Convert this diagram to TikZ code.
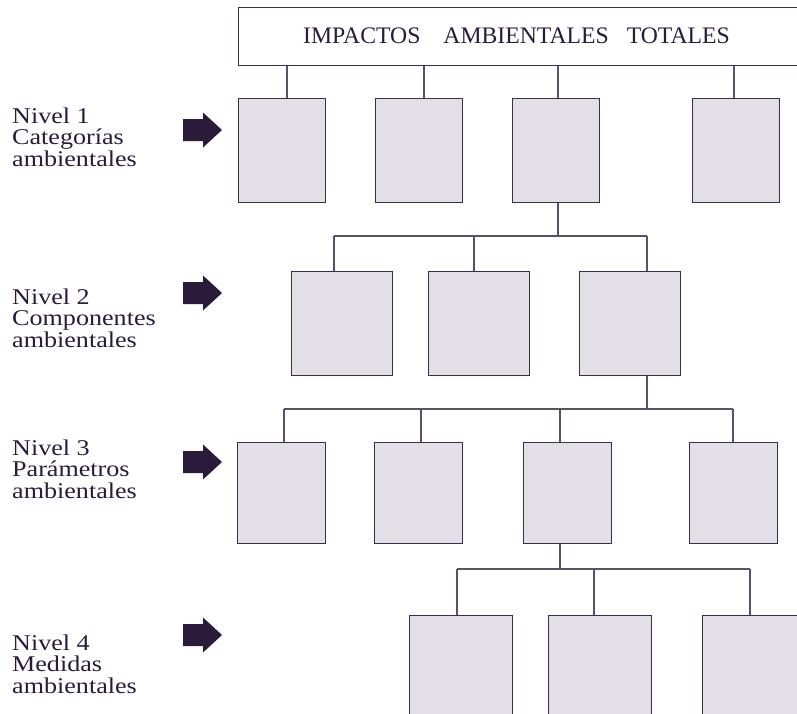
\documentclass[tikz,border=0pt]{standalone}
\usepackage{fontspec}
\setmainfont{Liberation Serif}
\newfontfamily\lblfont[FakeStretch=1.16]{Liberation Serif}
\definecolor{boxfill}{HTML}{E3DFE7}
\definecolor{boxline}{HTML}{3A2E4C}
\definecolor{conn}{HTML}{5A4F6C}
\definecolor{ink}{HTML}{2A1B3B}
\tikzset{
  box/.style={draw=boxline, fill=boxfill, line width=1.3pt, inner sep=0pt, anchor=north west},
  bw/.style={minimum width=87pt, minimum height=104pt},
  bw2/.style={minimum width=101pt, minimum height=104pt},
  bw3/.style={minimum width=88pt, minimum height=101pt},
  bw4/.style={minimum width=103pt, minimum height=105pt},
  link/.style={draw=conn, line width=1.1pt},
  lvl/.style={font=\lblfont\fontsize{22.5}{21.3}\selectfont, text=ink, align=left, inner sep=0pt, anchor=base west},
  bigarrow/.pic={\fill[ink] (0,-11) -- (20,-11) -- (20,-17.5) -- (39,0) -- (20,17.5) -- (20,11) -- (0,11) -- cycle;}
}
\begin{document}
\begin{tikzpicture}[x=1pt,y=-1pt]
\useasboundingbox (0,0) rectangle (797,713);
% top box
\node[draw=boxline, line width=1.2pt, inner sep=0pt, anchor=north west, minimum width=580pt, minimum height=58pt] (top) at (238,7) {};
\node[font=\fontsize{23.7}{23.7}\selectfont, text=ink, anchor=base, inner sep=0pt] (toptext) at (516.5,43) {IMPACTOS\hspace{23pt}AMBIENTALES\hspace{18pt}TOTALES};
% level 1
\node[box,bw] (a1) at (238,98) {};
\node[box,bw] (a2) at (375,98) {};
\node[box,bw] (a3) at (512,98) {};
\node[box,bw] (a4) at (692,98) {};
% level 2
\node[box,bw2] (b1) at (291,271) {};
\node[box,bw2] (b2) at (428,271) {};
\node[box,bw2] (b3) at (579,271) {};
% level 3
\node[box,bw3] (c1) at (237,442) {};
\node[box,bw3] (c2) at (374,442) {};
\node[box,bw3] (c3) at (523,442) {};
\node[box,bw3] (c4) at (689,442) {};
% level 4
\node[box,bw4] (d1) at (409,615) {};
\node[box,bw4] (d2) at (548,615) {};
\node[box,bw4] (d3) at (702,615) {};
% tap coordinates
\coordinate (t1) at (287,0); \coordinate (t2) at (424,0); \coordinate (t3) at (558,0); \coordinate (t4) at (734,0);
\coordinate (u1) at (334,236); \coordinate (u2) at (474,236); \coordinate (u3) at (647,236); \coordinate (uj) at (558,236);
\coordinate (v1) at (284,409); \coordinate (v2) at (421,409); \coordinate (v3) at (560,409); \coordinate (v4) at (733,409); \coordinate (vj) at (647,409);
\coordinate (w1) at (457,569); \coordinate (w2) at (594,569); \coordinate (w3) at (750,569); \coordinate (wj) at (560,569);
% connectors level 1
\draw[link] (top.south -| t1) -- (a1.north -| t1);
\draw[link] (top.south -| t2) -- (a2.north -| t2);
\draw[link] (top.south -| t3) -- (a3.north -| t3);
\draw[link] (top.south -| t4) -- (a4.north -| t4);
% level 2
\draw[link] (a3.south -| uj) -- (uj);
\draw[link] (u1) -- (u3);
\draw[link] (u1) -- (b1.north -| u1);
\draw[link] (u2) -- (b2.north -| u2);
\draw[link] (u3) -- (b3.north -| u3);
% level 3
\draw[link] (b3.south -| vj) -- (vj);
\draw[link] (v1) -- (v4);
\draw[link] (v1) -- (c1.north -| v1);
\draw[link] (v2) -- (c2.north -| v2);
\draw[link] (v3) -- (c3.north -| v3);
\draw[link] (v4) -- (c4.north -| v4);
% level 4
\draw[link] (c3.south -| wj) -- (wj);
\draw[link] (w1) -- (w3);
\draw[link] (w1) -- (d1.north -| w1);
\draw[link] (w2) -- (d2.north -| w2);
\draw[link] (w3) -- (d3.north -| w3);
% labels (anchored at the baseline of their last line)
\node[lvl] (l1) at (12,166) {Nivel 1\\Categorías\\ambientales};
\node[lvl] (l2) at (12,347) {Nivel 2\\Componentes\\ambientales};
\node[lvl] (l3) at (12,498) {Nivel 3\\Parámetros\\ambientales};
\node[lvl] (l4) at (12,693) {Nivel 4\\Medidas\\ambientales};
% arrows
\pic at (183,130) {bigarrow};
\pic at (183,293) {bigarrow};
\pic at (183,462) {bigarrow};
\pic at (183,635) {bigarrow};
\end{tikzpicture}
\end{document}
